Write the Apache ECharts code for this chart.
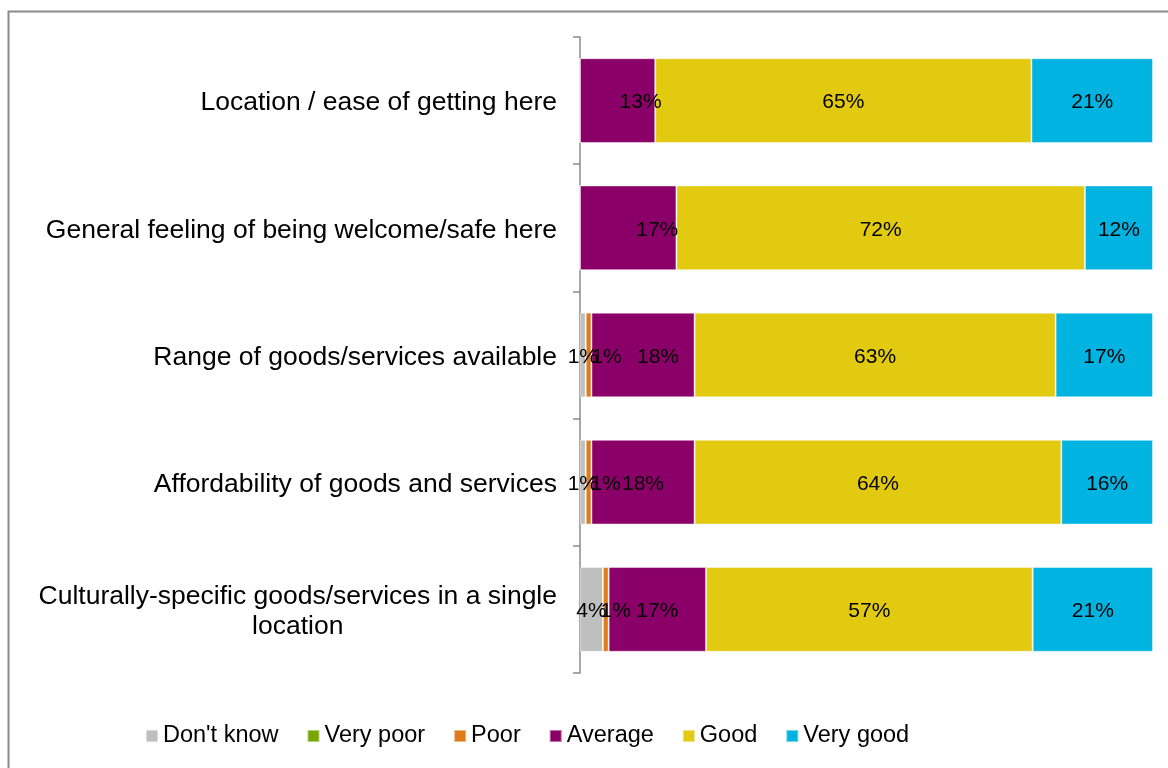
<!DOCTYPE html>
<html>
<head>
<meta charset="utf-8">
<title>Ratings by aspect</title>
<script src="https://cdn.jsdelivr.net/npm/echarts@6/dist/echarts.min.js"></script>
<style>
  html, body { margin: 0; padding: 0; background: #fff; }
  #chart { width: 1168px; height: 768px; }
</style>
</head>
<body>
<div id="chart"></div>
<script>
// Survey aspects, top to bottom
const categories = [
  'Location / ease of getting here',
  'General feeling of being welcome/safe here',
  'Range of goods/services available',
  'Affordability of goods and services',
  'Culturally-specific goods/services in a single\nlocation'
];

// Response shares (%) per rating, one entry per aspect
const dontKnow = [0, 0, 1, 1, 4];
const veryPoor = [0, 0, 0, 0, 0];
const poor     = [0, 0, 1, 1, 1];
const average  = [13, 17, 18, 18, 17];
const good     = [65, 72, 63, 64, 57];
const veryGood = [21, 12, 17, 16, 21];

const ratingNames = ["Don't know", 'Very poor', 'Poor', 'Average', 'Good', 'Very good'];
const ratingValues = [dontKnow, veryPoor, poor, average, good, veryGood];
const ratingColors = ['#BFBFBF', '#77A700', '#E07B1C', '#8B0068', '#E1CA0F', '#00B3E0'];

// Hand-placed label nudges (px, horizontal) to keep neighbouring labels apart
const labelNudge = {
  'Poor':    [0, 0, 18, 17, 10],
  'Average': [23, 29, 15, 0, 0]
};

const FONT = 'Liberation Sans, Arial, Helvetica, sans-serif';

// Each bar is scaled to 100% of its row total
const rowTotals = categories.map((_, i) =>
  ratingValues.reduce((s, arr) => s + arr[i], 0));

const series = ratingNames.map((name, k) => ({
  name: name,
  type: 'bar',
  stack: 'share',
  barCategoryGap: '33.4%',
  itemStyle: {
    color: ratingColors[k],
    borderColor: 'rgba(255,255,255,0.45)',
    borderWidth: 1
  },
  label: {
    show: true,
    position: 'inside',
    offset: [0, 2],
    color: '#000',
    fontFamily: FONT,
    fontSize: 21,
    formatter: p => (p.data.raw > 0 ? p.data.raw + '%' : '')
  },
  emphasis: { disabled: true },
  data: ratingValues[k].map((v, i) => {
    const d = { value: v / rowTotals[i] * 100, raw: v };
    const nudge = labelNudge[name];
    if (nudge && nudge[i]) d.label = { offset: [nudge[i], 2] };
    return d;
  })
}));

const chart = echarts.init(document.getElementById('chart'), null, { renderer: 'canvas' });

chart.setOption({
  animation: false,
  backgroundColor: '#fff',
  textStyle: { fontFamily: FONT },
  graphic: [{
    type: 'rect',
    shape: { x: 8.5, y: 11.5, width: 1200, height: 800 },
    style: { fill: 'none', stroke: '#8a8a8a', lineWidth: 2 },
    silent: true,
    z: -1
  }],
  grid: { left: 580, right: 15, top: 37, bottom: 95, containLabel: false },
  legend: {
    data: ratingNames,
    left: 140,
    top: 719,
    icon: 'rect',
    itemWidth: 12,
    itemHeight: 12,
    itemGap: 28,
    textStyle: { fontFamily: FONT, fontSize: 23.5, color: '#000' }
  },
  xAxis: {
    type: 'value',
    min: 0,
    max: 100,
    show: false
  },
  yAxis: {
    type: 'category',
    inverse: true,
    data: categories,
    axisLine: { show: true, lineStyle: { color: '#8a8a8a', width: 1.5 } },
    axisTick: { show: true, length: 7, lineStyle: { color: '#8a8a8a', width: 1.5 } },
    splitLine: { show: false },
    axisLabel: {
      margin: 23,
      color: '#000',
      fontFamily: FONT,
      fontSize: 26.5,
      lineHeight: 30,
      padding: [5, 0, 0, 0],
      formatter: v => v.split('\n').map(s => '{c|' + s + '}').join('\n'),
      rich: {
        c: { fontFamily: FONT, fontSize: 26.5, lineHeight: 30, color: '#000', align: 'center' }
      }
    }
  },
  series: series
});
</script>
</body>
</html>
